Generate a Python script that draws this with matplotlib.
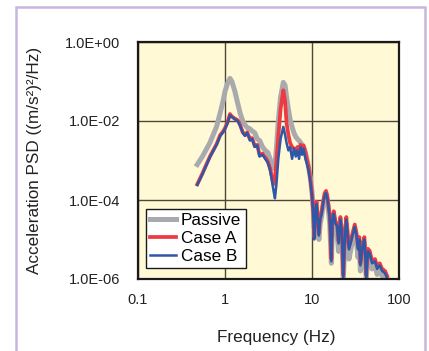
import matplotlib
matplotlib.use("Agg")
import matplotlib.pyplot as plt
from matplotlib.patches import Rectangle

plt.rcParams['font.family'] = ['Liberation Sans', 'DejaVu Sans']

# frequency axis (Hz), shared by the three series
freq = [0.48, 0.55, 0.67, 0.8, 0.88, 0.95, 1.0, 1.07, 1.14, 1.2, 1.3, 1.4, 1.49, 1.6, 1.7,
        1.8, 1.94, 2.05, 2.2, 2.35, 2.5, 2.7, 2.9, 3.1, 3.3, 3.45, 3.6, 3.75, 3.9, 4.1,
        4.35, 4.68, 4.9, 5.1, 5.35, 5.6, 5.9, 6.2, 6.5, 6.8, 7.1, 7.4, 7.7, 8.0, 8.4,
        8.8, 9.2, 9.6, 10.0, 10.3, 10.6, 11.0, 11.3, 11.7, 12.0, 12.4, 12.8, 13.4, 14.0,
        14.5, 15.0, 15.5, 16.0, 16.7, 17.2, 17.8, 18.6, 19.4, 20.2, 21.2, 22.0, 22.9, 23.8,
        24.8, 25.7, 26.6, 28.5, 31.0, 32.5, 33.8, 35.0, 36.0, 38.0, 40.0, 41.0, 42.0, 44.0,
        46.0, 49.0, 53.0, 56.0, 60.0, 64.0, 69.0, 73.0]

passive = [7.9e-4, 1.26e-3, 2.8e-3, 7.2e-3, 1.6e-2, 3.2e-2, 5.6e-2, 9.0e-2, 1.2e-1, 1.0e-1,
           5.6e-2, 2.8e-2, 1.6e-2, 1.0e-2, 7.9e-3, 6.8e-3, 6.3e-3, 5.6e-3, 5.0e-3, 3.5e-3,
           3.2e-3, 2.2e-3, 1.8e-3, 1.6e-3, 1.1e-3, 7.9e-4, 6.3e-4, 7.1e-4, 2.0e-3, 1.0e-2,
           4.0e-2, 9.5e-2, 8.0e-2, 4.0e-2, 2.0e-2, 1.1e-2, 7.1e-3, 5.0e-3, 4.0e-3, 3.5e-3,
           3.2e-3, 2.8e-3, 2.5e-3, 2.2e-3, 1.6e-3, 1.0e-3, 6.3e-4, 3.5e-4, 1.6e-4, 6.3e-5,
           2.0e-5, 4.5e-5, 6.0e-5, 2.0e-5, 1.0e-5, 2.5e-5, 3.5e-5, 7.0e-5, 1.2e-4, 1.4e-4,
           9.5e-5, 5.0e-5, 2.5e-5, 2.5e-6, 2.5e-5, 3.5e-5, 1.8e-5, 1.4e-5, 5.0e-6, 2.5e-5,
           1.2e-5, 1.0e-6, 7.0e-6, 2.5e-5, 8.0e-6, 3.2e-6, 7.0e-6, 1.7e-5, 9.0e-6, 3.5e-6,
           7.0e-6, 1.6e-6, 4.5e-6, 8.0e-6, 2.8e-6, 1.0e-6, 3.6e-6, 3.5e-6, 1.8e-6, 2.2e-6,
           1.3e-6, 1.7e-6, 1.2e-6, 1.1e-6, 1.0e-6]

case_a = [2.5e-4, 4.7e-4, 1.26e-3, 2.6e-3, 4.4e-3, 5.4e-3, 6.6e-3, 9.3e-3, 1.5e-2, 1.3e-2,
          1.15e-2, 1.05e-2, 8.0e-3, 5.2e-3, 4.4e-3, 5.2e-3, 3.4e-3, 3.7e-3, 2.3e-3, 2.5e-3,
          1.35e-3, 1.5e-3, 1.2e-3, 9.5e-4, 6.3e-4, 4.0e-4, 2.5e-4, 3.2e-4, 1.0e-3, 4.0e-3,
          2.0e-2, 6.0e-2, 3.2e-2, 8.9e-3, 4.5e-3, 2.8e-3, 2.2e-3, 2.0e-3, 1.8e-3, 2.2e-3,
          2.0e-3, 2.5e-3, 2.2e-3, 2.4e-3, 1.6e-3, 1.0e-3, 6.3e-4, 3.2e-4, 1.4e-4, 5.8e-5,
          1.15e-5, 7.2e-5, 9.1e-5, 2.9e-5, 1.45e-5, 3.7e-5, 4.6e-5, 9.1e-5, 1.5e-4, 1.7e-4,
          1.26e-4, 7.2e-5, 4.0e-5, 3.2e-6, 3.7e-5, 5.2e-5, 2.9e-5, 2.5e-5, 9.1e-6, 3.7e-5,
          1.8e-5, 1.26e-6, 1.15e-5, 3.7e-5, 1.45e-5, 6.4e-6, 1.15e-5, 2.4e-5, 1.45e-5, 6.4e-6,
          1.15e-5, 2.5e-6, 7.2e-6, 1.15e-5, 4.6e-6, 1.26e-6, 5.8e-6, 5.2e-6, 2.9e-6, 3.2e-6,
          2.1e-6, 2.5e-6, 1.8e-6, 1.6e-6, 1.2e-6]

case_b = [2.4e-4, 4.5e-4, 1.2e-3, 2.5e-3, 4.2e-3, 5.2e-3, 6.3e-3, 8.9e-3, 1.4e-2, 1.26e-2,
          1.1e-2, 1.0e-2, 7.6e-3, 5.0e-3, 4.2e-3, 5.0e-3, 3.2e-3, 3.5e-3, 2.2e-3, 2.4e-3,
          1.26e-3, 1.4e-3, 1.1e-3, 8.9e-4, 5.6e-4, 3.2e-4, 1.8e-4, 1.1e-4, 2.5e-4, 1.1e-3,
          3.5e-3, 7.1e-3, 4.5e-3, 2.8e-3, 1.8e-3, 2.2e-3, 1.1e-3, 2.0e-3, 1.26e-3, 1.8e-3,
          1.1e-3, 2.2e-3, 1.4e-3, 2.0e-3, 1.1e-3, 7.9e-4, 5.0e-4, 2.8e-4, 1.26e-4, 5.0e-5,
          1.0e-5, 6.3e-5, 7.9e-5, 2.5e-5, 1.26e-5, 3.2e-5, 4.0e-5, 7.9e-5, 1.3e-4, 1.5e-4,
          1.1e-4, 6.3e-5, 3.5e-5, 2.8e-6, 3.2e-5, 4.5e-5, 2.5e-5, 2.2e-5, 7.9e-6, 3.2e-5,
          1.6e-5, 1.1e-6, 1.0e-5, 3.2e-5, 1.26e-5, 5.6e-6, 1.0e-5, 2.1e-5, 1.26e-5, 5.6e-6,
          1.0e-5, 2.2e-6, 6.3e-6, 1.0e-5, 4.0e-6, 1.1e-6, 5.0e-6, 4.5e-6, 2.5e-6, 2.8e-6,
          1.8e-6, 2.2e-6, 1.6e-6, 1.4e-6, 1.07e-6]

x_ticks = [0.1, 1, 10, 100]
x_tick_labels = ['0.1', '1', '10', '100']
y_ticks = [1e-6, 1e-4, 1e-2, 1e0]
y_tick_labels = ['1.0E-06', '1.0E-04', '1.0E-02', '1.0E+00']

fig = plt.figure(figsize=(4.29, 3.51), dpi=100)
ax = fig.add_axes([138 / 429, 72 / 351, 261 / 429, 237 / 351])
ax.set_facecolor('#fff9d6')

ax.plot(freq, passive, color='#a9aaae', lw=3.6, label='Passive', solid_joinstyle='round')
ax.plot(freq, case_a, color='#ee3a42', lw=2.7, label='Case A', solid_joinstyle='round')
ax.plot(freq, case_b, color='#2d57a7', lw=1.8, label='Case B', solid_joinstyle='round')

ax.set_xscale('log')
ax.set_yscale('log')
ax.set_xlim(0.1, 100)
ax.set_ylim(1e-6, 1)
ax.set_xticks(x_ticks)
ax.set_xticklabels(x_tick_labels)
ax.set_yticks(y_ticks)
ax.set_yticklabels(y_tick_labels)
ax.minorticks_off()
ax.tick_params(axis='both', length=0, labelsize=10.5, colors='#222222')
ax.tick_params(axis='y', pad=13)
ax.tick_params(axis='x', pad=10)
ax.grid(True, color='#4d4838', lw=1.0)
ax.set_axisbelow(True)
for sp in ax.spines.values():
    sp.set_linewidth(1.6)
    sp.set_color('#1a1a1a')

ax.set_xlabel('Frequency (Hz)', fontsize=12.3, color='#222222')
ax.xaxis.set_label_coords(0.53, -0.215)
ax.set_ylabel('Acceleration PSD ((m/s²)²/Hz)', fontsize=12.3, color='#222222')
ax.yaxis.set_label_coords(-0.367, 0.5)

leg = ax.legend(loc='lower left', bbox_to_anchor=(0.031, 0.045), fontsize=12.3,
                frameon=True, fancybox=False, handlelength=1.5, handletextpad=0.3,
                labelspacing=0.18, borderpad=0.25, borderaxespad=0)
leg.get_frame().set_edgecolor('#1a1a1a')
leg.get_frame().set_linewidth(1.0)
leg.get_frame().set_facecolor('white')
leg.get_frame().set_alpha(1)

# lavender panel border
fig.add_artist(Rectangle((16 / 429, -0.05), 409 / 429, 1.05 - 7 / 351,
                         transform=fig.transFigure, fill=False,
                         edgecolor='#c8b6e0', lw=1.8))

fig.savefig('out.png', dpi=100)
